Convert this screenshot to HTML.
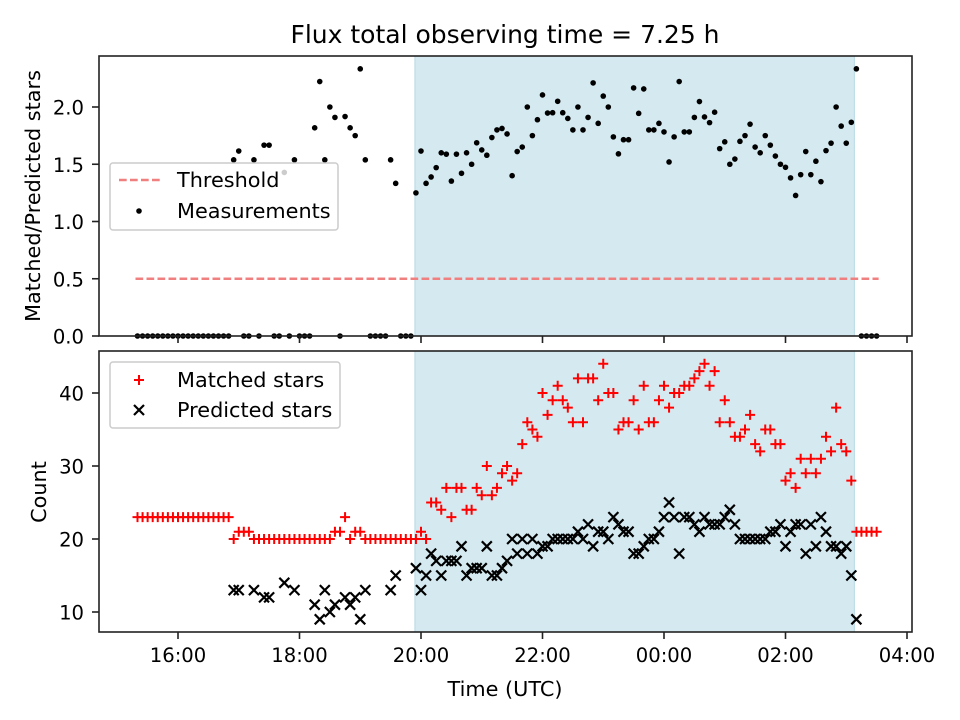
<!DOCTYPE html>
<html><head><meta charset="utf-8"><style>
html,body{margin:0;padding:0;background:#fff;}
svg{display:block;font-family:"DejaVu Sans","Liberation Sans",sans-serif;}
</style></head><body>
<svg id="chart" width="960" height="720" viewBox="0 0 960 720"></svg>
<script>
const startTime = "15:20";
const stepMinutes = 5;
const shadeStart = "19:54";
const shadeEnd = "03:08";
const threshold = 0.5;
const xTickLabels = ["16:00","18:00","20:00","22:00","00:00","02:00","04:00"];
const ratioTicks = [0.0,0.5,1.0,1.5,2.0];
const countTicks = [10,20,30,40];
const matched = [23,23,23,23,23,23,23,23,23,23,23,23,23,23,23,23,23,23,23,
20,21,21,21,20,20,20,20,20,20,20,20,20,20,20,20,20,20,20,20,21,21,23,20,21,21,20,20,20,20,20,20,20,20,20,20,20,21,20,
25,25,24,27,23,27,27,24,24,27,26,30,26,27,29,30,28,29,33,36,35,34,40,37,39,41,39,38,36,42,36,42,42,39,44,40,40,35,36,36,39,35,41,36,36,39,41,38,40,40,41,41,42,43,44,41,43,36,39,36,34,34,35,37,33,32,35,35,33,33,28,29,27,31,29,31,29,31,34,32,38,33,32,28,21,21,21,21,21];
const predicted = [null,null,null,null,null,null,null,null,null,null,null,null,null,null,null,null,null,null,null,
13,13,null,null,13,null,12,12,null,null,14,null,13,null,null,null,11,9,13,10,11,null,12,11,12,9,13,null,null,null,null,13,15,null,null,null,16,13,15,
18,17,15,17,17,17,19,15,16,16,16,19,15,15,16,17,20,18,20,18,20,18,19,19,20,20,20,20,20,21,20,22,19,21,21,20,23,22,21,21,18,18,19,20,20,21,23,25,23,18,23,23,22,21,23,22,22,22,23,24,22,20,20,20,20,20,20,21,21,22,19,21,22,22,18,22,19,23,21,19,19,18,19,15,9,null,null,null,null];

const NS="http://www.w3.org/2000/svg";
const svg=document.getElementById('chart');
function el(tag,attrs,parent){const e=document.createElementNS(NS,tag);for(const k in attrs)e.setAttribute(k,attrs[k]);(parent||svg).appendChild(e);return e;}
function hhmmToHours(s){const p=s.split(':');let h=+p[0]+ +p[1]/60;if(h<12)h+=24;return h;}
const L=99,R=912;
const FS=20.8, TFS=19.6;
function xScale(h){return 178+(h-16)*60.75;}
function timeAt(i){return hhmmToHours(startTime)+i*stepMinutes/60;}
const T1=56,B1=336,T2=351,B2=632;
function yR(v){return 336-v*114.5;}
function yC(v){return 612-(v-10)*7.3;}

let t=el('text',{x:505,y:43,'text-anchor':'middle','font-size':'25',fill:'#000'});t.textContent='Flux total observing time = 7.25 h';


function panel(top,bottom,name){
  const g=el('g',{});
  
  const sx=xScale(hhmmToHours(shadeStart)),ex=xScale(hhmmToHours(shadeEnd));
  const r=el('rect',{x:sx,y:top,width:ex-sx,height:bottom-top,fill:'#d4eaf0',stroke:'#b5d8e4','stroke-width':1},g);
  
  return g;
}
function frame(top,bottom,g){
  el('rect',{x:L,y:top,width:R-L,height:bottom-top,fill:'none',stroke:'#222','stroke-width':1.6},g);
  xTickLabels.forEach((lb,i)=>{const x=xScale(16+2*i);el('line',{x1:x,x2:x,y1:bottom,y2:bottom+7,stroke:'#222','stroke-width':1.6},g);});
}

const g1=panel(T1,B1,'ratio-panel');
const thr=el('line',{x1:xScale(timeAt(0))-2,x2:xScale(timeAt(matched.length-1))+2,y1:yR(threshold),y2:yR(threshold),stroke:'#f08080','stroke-width':2.4,'stroke-dasharray':'7.7,3.3'},g1);

matched.forEach((m,i)=>{
  const p=predicted[i];const v=p?m/p:0;
  const c=el('circle',{cx:xScale(timeAt(i)),cy:yR(v),r:2.8,fill:'#000'},g1);
  
});
frame(T1,B1,g1);
ratioTicks.forEach(v=>{const y=yR(v);el('line',{x1:L-7,x2:L,y1:y,y2:y,stroke:'#222','stroke-width':1.6},g1);
  const tx=el('text',{x:L-15,y:y+7.5,'text-anchor':'end','font-size':TFS},g1);tx.textContent=v.toFixed(1);
  });
let yl=el('text',{x:0,y:0,'font-size':FS,'text-anchor':'middle',transform:'translate(40,196) rotate(-90)'},g1);yl.textContent='Matched/Predicted stars';


const lg1=el('g',{},svg);
el('rect',{x:110,y:163,width:228,height:67,rx:3,fill:'#fff','fill-opacity':0.8,stroke:'#ccc','stroke-width':1.5},lg1);
el('line',{x1:119,x2:160,y1:180,y2:180,stroke:'#f08080','stroke-width':2.4,'stroke-dasharray':'7.7,3.3'},lg1);
el('circle',{cx:139,cy:211,r:2.8,fill:'#000'},lg1);
let a=el('text',{x:177,y:187,'font-size':FS},lg1);a.textContent='Threshold';
a=el('text',{x:177,y:218,'font-size':FS},lg1);a.textContent='Measurements';

const g2=panel(T2,B2,'count-panel');
function plus(x,y,g){return el('path',{d:`M${x-5},${y}H${x+5}M${x},${y-5}V${y+5}`,stroke:'#f00','stroke-width':2,fill:'none'},g);}
function cross(x,y,g){const s=5;return el('path',{d:`M${x-s},${y-s}L${x+s},${y+s}M${x-s},${y+s}L${x+s},${y-s}`,stroke:'#000','stroke-width':2.2,fill:'none'},g);}
matched.forEach((m,i)=>{const mk=plus(xScale(timeAt(i)),yC(m),g2);
  });
predicted.forEach((p,i)=>{if(p==null)return;const mk=cross(xScale(timeAt(i)),yC(p),g2);
  });
frame(T2,B2,g2);
countTicks.forEach(v=>{const y=yC(v);el('line',{x1:L-7,x2:L,y1:y,y2:y,stroke:'#222','stroke-width':1.6},g2);
  const tx=el('text',{x:L-15,y:y+7.5,'text-anchor':'end','font-size':TFS},g2);tx.textContent=v;
  });
xTickLabels.forEach((lb,i)=>{const tx=el('text',{x:xScale(16+2*i),y:662,'text-anchor':'middle','font-size':TFS},g2);tx.textContent=lb;
  });
yl=el('text',{x:0,y:0,'font-size':FS,'text-anchor':'middle',transform:'translate(46,492) rotate(-90)'},g2);yl.textContent='Count';

let xl=el('text',{x:505,y:696,'font-size':FS,'text-anchor':'middle'},g2);xl.textContent='Time (UTC)';


const lg2=el('g',{},svg);
el('rect',{x:110,y:362,width:230,height:66,rx:3,fill:'#fff','fill-opacity':0.8,stroke:'#ccc','stroke-width':1.5},lg2);
plus(139,380,lg2);cross(139,410,lg2);
a=el('text',{x:177,y:387,'font-size':FS},lg2);a.textContent='Matched stars';
a=el('text',{x:177,y:417,'font-size':FS},lg2);a.textContent='Predicted stars';
</script>
</body></html>
